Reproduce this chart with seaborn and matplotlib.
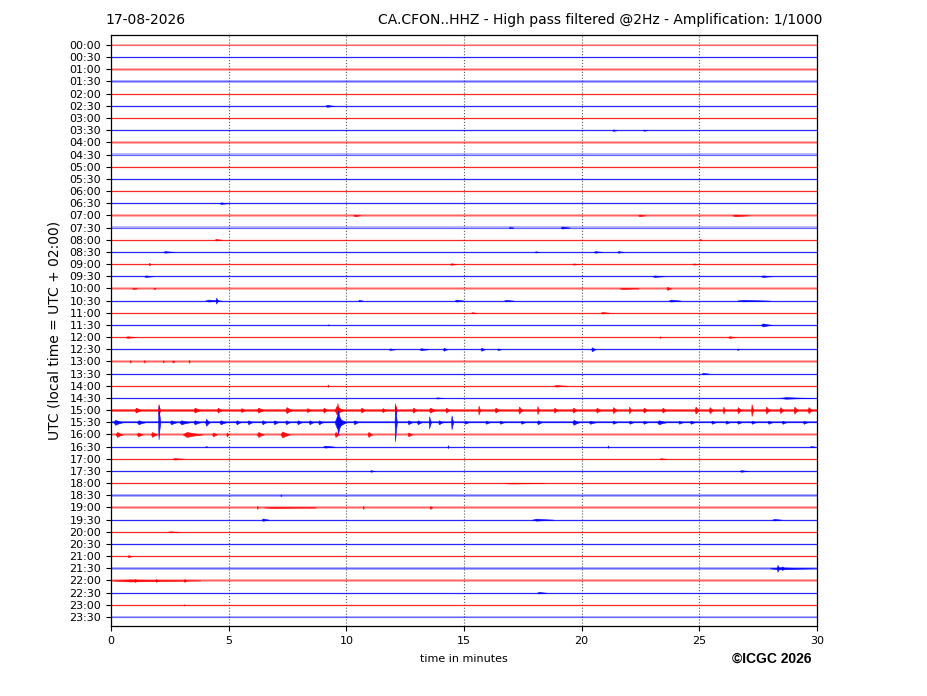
import numpy as np
import pandas as pd
import matplotlib
matplotlib.use("Agg")
import matplotlib.pyplot as plt
import seaborn as sns

# ---------------- data ----------------
date_label = "17-08-2026"
title_label = "CA.CFON..HHZ - High pass filtered @2Hz - Amplification: 1/1000"
row_labels = [f"{h:02d}:{m:02d}" for h in range(24) for m in (0, 30)]
minutes_span = [0, 30]

# background noise half-width per row (fraction of row spacing)
row_noise = [0.10, 0.04, 0.10, 0.12, 0.05, 0.04, 0.05, 0.04, 0.11, 0.11,
             0.05, 0.04, 0.05, 0.05, 0.10, 0.10, 0.05, 0.04, 0.05, 0.04,
             0.12, 0.05, 0.05, 0.04, 0.05, 0.05, 0.12, 0.04, 0.05, 0.05,
             0.12, 0.08, 0.12, 0.05, 0.05, 0.05, 0.06, 0.10, 0.12, 0.05,
             0.05, 0.05, 0.05, 0.12, 0.12, 0.05, 0.05, 0.08]
# rows whose trace looks pale (broadband noise)
row_faded = [1, 0, 1, 1, 0, 0, 0, 0, 1, 1,
             0, 0, 0, 0, 1, 1, 0, 0, 0, 0,
             1, 0, 0, 0, 0, 0, 1, 0, 0, 0,
             0, 0, 1, 0, 0, 0, 0, 1, 1, 0,
             0, 0, 0, 1, 1, 0, 0, 1]

# events: (row, start minute, end minute, amplitude in px)
ev_row = []
ev_t0 = []
ev_t1 = []
ev_amp = []

def add(row, items):
    for t0, t1, a in items:
        ev_row.append(row); ev_t0.append(t0); ev_t1.append(t1); ev_amp.append(a)

add(5, [(9.1, 9.5, 1.0)])
add(7, [(21.3, 21.5, 0.8), (22.6, 22.8, 0.6)])
add(13, [(4.6, 5.0, 0.8)])
add(14, [(10.3, 10.6, 0.8), (22.4, 22.7, 0.8), (26.4, 27.1, 0.8)])
add(15, [(16.9, 17.1, 0.6), (19.1, 19.5, 1.0)])
add(16, [(4.4, 4.7, 0.8), (25.0, 25.1, 0.8)])
add(17, [(2.2, 2.7, 0.8), (18.0, 18.2, 0.6), (20.5, 20.9, 0.8), (21.5, 21.8, 0.8)])
add(18, [(1.6, 1.7, 1.2), (14.4, 14.7, 0.8), (19.6, 19.9, 0.6), (24.7, 25.0, 0.6)])
add(19, [(1.4, 1.8, 0.8), (23.0, 23.5, 0.8), (27.6, 28.1, 0.8)])
add(20, [(0.9, 1.1, 0.6), (1.8, 1.9, 0.6), (21.6, 22.4, 0.6), (23.6, 23.8, 1.5)])
add(21, [(4.0, 4.7, 1.0), (4.45, 4.55, 3.0), (10.5, 10.7, 0.8), (14.6, 15.0, 1.0),
         (16.7, 17.1, 0.8), (23.7, 24.2, 1.0), (26.6, 28.0, 0.8)])
add(22, [(15.3, 15.5, 0.6), (20.8, 21.2, 0.8)])
add(23, [(9.2, 9.3, 0.5), (27.6, 28.1, 1.5)])
add(24, [(0.6, 1.1, 0.8), (23.3, 23.4, 0.8), (26.2, 26.6, 0.8)])
add(25, [(11.8, 12.1, 0.8), (13.1, 13.5, 1.0), (14.1, 14.3, 1.5), (15.7, 15.9, 1.5),
         (16.4, 16.6, 0.8), (20.4, 20.6, 2.0), (26.6, 26.7, 0.8)])
add(26, [(0.8, 0.85, 1.2), (1.4, 1.45, 1.2), (2.2, 2.25, 1.0), (2.6, 2.7, 1.0), (3.3, 3.35, 1.5)])
add(27, [(25.1, 25.4, 0.8)])
add(28, [(9.2, 9.25, 1.2), (18.8, 19.4, 0.8)])
add(29, [(13.8, 14.1, 0.6), (28.4, 29.8, 0.8)])
add(30, [(1.0, 1.3, 2.5), (2.0, 2.1, 6.0), (3.5, 3.8, 2.5), (4.5, 4.7, 2.5), (5.5, 5.7, 2.0),
         (6.2, 6.5, 2.5), (7.4, 7.7, 3.0), (8.3, 8.5, 2.0), (9.0, 9.2, 2.5), (9.5, 9.9, 4.0),
         (9.6, 9.7, 7.0), (10.6, 10.8, 2.5), (11.5, 11.7, 2.0), (12.1, 12.15, 4.0),
         (12.8, 13.0, 2.5), (13.5, 13.8, 2.5), (14.2, 14.4, 2.5), (15.6, 15.7, 4.5),
         (16.3, 16.5, 2.5), (17.3, 17.5, 3.5), (18.1, 18.2, 4.0), (18.8, 19.0, 2.5),
         (19.6, 19.8, 2.5), (20.6, 20.8, 2.5), (21.3, 21.5, 3.0), (22.0, 22.1, 3.5),
         (22.6, 22.8, 2.5), (23.4, 23.6, 2.5), (24.8, 25.0, 3.5), (25.4, 25.6, 3.0),
         (26.0, 26.1, 3.5), (26.6, 26.8, 3.0), (27.2, 27.3, 6.0), (27.8, 28.0, 3.5),
         (28.4, 28.6, 3.0), (29.0, 29.2, 3.5), (29.6, 29.8, 3.0)])
add(31, [(0.1, 0.5, 2.5), (1.1, 1.45, 2.0), (2.0, 2.1, 17.0), (2.5, 2.8, 2.0), (2.9, 3.35, 2.0),
         (3.5, 3.8, 2.0), (4.0, 4.2, 3.5), (4.6, 4.9, 2.0), (5.3, 5.5, 2.0), (5.8, 6.0, 2.0),
         (6.4, 6.6, 2.0), (6.9, 7.1, 2.0), (7.4, 7.6, 2.0), (7.9, 8.1, 2.0), (8.4, 8.6, 2.0),
         (8.8, 9.0, 2.0), (9.5, 10.0, 6.0), (9.6, 9.8, 12.0), (10.3, 10.5, 2.0),
         (12.05, 12.15, 19.0), (12.6, 12.8, 2.0), (13.0, 13.2, 2.0), (13.5, 13.6, 6.0),
         (13.9, 14.1, 2.0), (14.45, 14.55, 7.0), (15.0, 15.2, 1.5), (15.9, 16.1, 1.5),
         (16.5, 16.7, 1.5), (17.4, 17.6, 1.5), (18.1, 18.3, 2.0), (19.6, 19.9, 2.5),
         (20.3, 20.6, 1.5), (21.3, 21.5, 1.5), (22.0, 22.2, 1.5), (22.6, 22.8, 1.5),
         (23.2, 23.6, 2.0), (24.1, 24.3, 1.5), (24.6, 24.8, 1.5), (25.5, 25.7, 1.5),
         (26.1, 26.3, 1.5), (26.6, 26.8, 1.5), (27.2, 27.4, 1.5), (27.9, 28.1, 1.5),
         (28.5, 28.7, 1.5), (29.4, 29.6, 1.5)])
add(32, [(0.2, 0.5, 2.5), (1.1, 1.35, 2.0), (1.7, 1.95, 2.5), (3.05, 3.9, 2.5), (4.3, 4.5, 2.0),
         (4.9, 5.0, 2.0), (6.2, 6.5, 2.5), (7.2, 7.6, 3.0), (9.5, 9.7, 2.5), (10.9, 11.1, 2.5),
         (12.6, 12.8, 2.0)])
add(33, [(4.0, 4.1, 0.5), (9.0, 9.5, 1.0), (14.3, 14.35, 1.5), (21.1, 21.15, 1.2), (29.7, 29.9, 0.6)])
add(34, [(2.6, 3.1, 0.8), (23.3, 23.6, 0.6)])
add(35, [(11.0, 11.2, 0.8), (26.7, 27.1, 0.8)])
add(36, [(16.7, 18.4, 0.4)])
add(37, [(7.2, 7.25, 0.8)])
add(38, [(6.2, 6.25, 1.5), (6.5, 8.7, 0.5), (10.7, 10.75, 1.5), (13.55, 13.65, 1.5)])
add(39, [(6.4, 6.7, 1.2), (17.9, 18.8, 1.0), (28.1, 28.5, 0.8)])
add(40, [(2.4, 2.9, 0.5)])
add(42, [(0.7, 0.9, 1.0)])
add(43, [(28.0, 30.0, 1.0), (28.3, 28.4, 3.5), (28.5, 28.6, 2.0)])
add(44, [(0.05, 3.8, 1.0), (1.0, 1.1, 1.5), (1.9, 2.0, 1.5), (3.1, 3.2, 1.5)])
add(45, [(18.1, 18.5, 0.8)])
add(46, [(3.1, 3.15, 0.6)])

# ---------------- style ----------------
sns.set_theme(style="ticks", rc={
    "axes.edgecolor": "black", "text.color": "black", "axes.labelcolor": "black",
    "xtick.color": "black", "ytick.color": "black",
    "xtick.direction": "out", "ytick.direction": "out",
})
plt.rcParams["font.family"] = ["DejaVu Sans"]

ROW_PX = 12.17  # pixels per row at this figure size
colors = ["#ff0000" if i % 2 == 0 else "#0000ff" for i in range(len(row_labels))]

fig = plt.figure(figsize=(9.27, 6.96), dpi=100)
ax = fig.add_axes([111 / 927, 1 - 626 / 696, 706 / 927, 591 / 696])

# baselines via seaborn
base = pd.DataFrame({
    "minute": np.tile(minutes_span, len(row_labels)),
    "row": np.repeat(np.arange(len(row_labels)), 2),
})
for i in range(len(row_labels)):
    sub = base[base["row"] == i]
    faded = row_faded[i] == 1
    n = row_noise[i]
    if n > 0.06:
        ax.fill_between(minutes_span, i - n, i + n, color=colors[i],
                        alpha=0.28 if faded else 0.5, linewidth=0)
    sns.lineplot(data=sub, x="minute", y="row", ax=ax, color=colors[i],
                 linewidth=0.9, alpha=0.45 if faded else 0.85, estimator=None)

# bursts / spikes: spindle envelope (fast onset, slower decay)
for r, t0, t1, a in zip(ev_row, ev_t0, ev_t1, ev_amp):
    amp = a / ROW_PX
    d = t1 - t0
    xs = [t0, t0 + 0.2 * d, t0 + 0.55 * d, t1]
    env = [0, amp, 0.45 * amp, 0]
    ax.fill_between(xs, [r - e for e in env], [r + e for e in env], color=colors[r],
                    linewidth=0.4, edgecolor=colors[r], alpha=0.9)

ax.set_xlim(0, 30)
ax.set_ylim(len(row_labels) - 1 + 0.74, -0.82)
ax.set_yticks(np.arange(len(row_labels)))
ax.set_yticklabels(row_labels, fontsize=8)
ax.set_xticks(np.arange(0, 31, 5))
ax.tick_params(axis="x", labelsize=8, length=3.5, width=0.8)
ax.tick_params(axis="y", length=3.5, width=0.8)
for x in range(5, 30, 5):
    ax.axvline(x, color="0.35", linestyle=":", linewidth=0.8, zorder=0)
for s in ax.spines.values():
    s.set_linewidth(0.9)
    s.set_visible(True)

ax.set_xlabel("time in minutes", fontsize=8, labelpad=6)
ax.set_ylabel("UTC (local time = UTC + 02:00)", fontsize=10, labelpad=6)

fig.text(105 / 927, 1 - 20 / 696, date_label, fontsize=10, ha="left", va="center")
fig.text(822 / 927, 1 - 20 / 696, title_label, fontsize=10, ha="right", va="center")
fig.text(811 / 927, 1 - 659 / 696, "©ICGC 2026", fontsize=10, fontweight="bold",
         family=["Liberation Sans", "DejaVu Sans"], ha="right", va="center")

fig.savefig("out.png", dpi=100)
